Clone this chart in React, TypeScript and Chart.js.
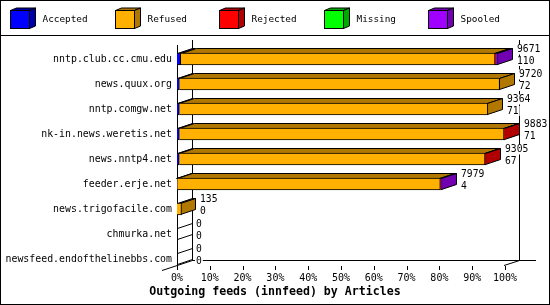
import { useEffect, useRef } from 'react';
import { Chart, registerables } from 'chart.js';
Chart.register(...registerables);

const feeds = [
  'nntp.club.cc.cmu.edu',
  'news.quux.org',
  'nntp.comgw.net',
  'nk-in.news.weretis.net',
  'news.nntp4.net',
  'feeder.erje.net',
  'news.trigofacile.com',
  'chmurka.net',
  'newsfeed.endofthelinebbs.com',
];
const offered = [9671, 9720, 9364, 9883, 9305, 7979, 135, 0, 0];
const accepted = [110, 72, 71, 71, 67, 4, 0, 0, 0];
const refused = [9471, 9648, 9293, 9782, 9213, 7930, 135, 0, 0];
const rejected = [30, 0, 0, 30, 25, 15, 0, 0, 0];
const missing = [0, 0, 0, 0, 0, 0, 0, 0, 0];
const spooled = [60, 0, 0, 0, 0, 30, 0, 0, 0];
const seriesNames = ['Accepted', 'Refused', 'Rejected', 'Missing', 'Spooled'];
const seriesValues = [accepted, refused, rejected, missing, spooled];
const frontColors = ['#0000FF', '#FFB000', '#FF0000', '#00FF00', '#A000FF'];
const sideColors = ['#0000A8', '#B07800', '#B00000', '#00A800', '#7000B0'];
const tickPercents = [0, 10, 20, 30, 40, 50, 60, 70, 80, 90, 100];
const titleText = 'Outgoing feeds (innfeed) by Articles';

const MONO = '"DejaVu Sans Mono", monospace';
const maxTotal = Math.max(...offered);
const DX = 15;
const DY = 5;
const BAR = 12;

function line(ctx: CanvasRenderingContext2D, x1: number, y1: number, x2: number, y2: number) {
  ctx.beginPath();
  ctx.moveTo(x1, y1);
  ctx.lineTo(x2, y2);
  ctx.stroke();
}

function poly(ctx: CanvasRenderingContext2D, pts: number[][], fill: string | null) {
  ctx.beginPath();
  ctx.moveTo(pts[0][0], pts[0][1]);
  for (let i = 1; i < pts.length; i++) ctx.lineTo(pts[i][0], pts[i][1]);
  ctx.closePath();
  if (fill) {
    ctx.fillStyle = fill;
    ctx.fill();
  }
  ctx.stroke();
}

const threeD = {
  id: 'threeD',
  beforeDraw(chart: any) {
    const ctx = chart.ctx;
    ctx.save();
    ctx.fillStyle = '#fff';
    ctx.fillRect(0, 0, chart.width, chart.height);
    ctx.restore();
  },
  beforeDatasetsDraw(chart: any) {
    const ctx: CanvasRenderingContext2D = chart.ctx;
    const xs = chart.scales.x;
    const ys = chart.scales.y;
    const x0 = Math.round(xs.getPixelForValue(0));
    const x100 = Math.round(xs.getPixelForValue(maxTotal));
    const cLast = ys.getPixelForValue(feeds.length - 1);
    const floorF = Math.round(cLast + BAR / 2);
    const floorB = floorF - DY;
    const topF = Math.round(ys.top) - 2;
    const topB = topF - DY;
    ctx.save();
    ctx.strokeStyle = '#000';
    ctx.lineWidth = 1;
    // back wall and floor
    line(ctx, x0 + DX + 0.5, topB, x0 + DX + 0.5, floorB + 0.5);
    line(ctx, x100 + DX - 0.5, topB, x100 + DX - 0.5, floorB + 0.5);
    line(ctx, x0 + DX, floorB + 0.5, x100 + DX + 16, floorB + 0.5);
    line(ctx, x0 - DX, floorF + DY + 0.5, x0 + DX + 0.5, floorB + 0.5);
    line(ctx, x100 - 1, floorF + 0.5, x100 + DX - 0.5, floorB + 0.5);
    // front left axis
    line(ctx, x0 + 0.5, topF, x0 + 0.5, floorF + 1.5);
    // tick marks
    xs.ticks.forEach((t: any) => {
      const px = Math.round(xs.getPixelForValue(t.value)) + 0.5;
      line(ctx, px, floorF + 1, px, floorF + 5);
    });
    // 3D faces
    const metas = chart.data.datasets.map((_: any, d: number) => chart.getDatasetMeta(d));
    for (let i = 0; i < feeds.length; i++) {
      const cy = ys.getPixelForValue(i);
      const t = Math.round(cy - BAR / 2) + 0.5;
      const b = Math.round(cy + BAR / 2) - 0.5;
      let last = -1;
      let lastR = 0;
      for (let d = 0; d < metas.length; d++) {
        if (!seriesValues[d][i]) continue;
        const el = metas[d].data[i];
        const p = el.getProps(['x', 'base'], true);
        const l = Math.round(Math.min(p.x, p.base)) + 0.5;
        const r = Math.round(Math.max(p.x, p.base)) - 0.5;
        poly(ctx, [[l, t], [r, t], [r + DX, t - DY], [l + DX, t - DY]], sideColors[d]);
        last = d;
        lastR = r;
      }
      if (last >= 0) {
        poly(ctx, [[lastR, t], [lastR + DX, t - DY], [lastR + DX, b - DY], [lastR, b]], sideColors[last]);
      } else {
        line(ctx, x0 + 0.5, t, x0 + DX + 0.5, t - DY);
        line(ctx, x0 + 0.5, b, x0 + DX + 0.5, b - DY);
      }
    }
    ctx.restore();
  },
  afterDatasetsDraw(chart: any) {
    const ctx: CanvasRenderingContext2D = chart.ctx;
    const xs = chart.scales.x;
    const ys = chart.scales.y;
    ctx.save();
    ctx.font = '9.7px ' + MONO;
    ctx.textBaseline = 'middle';
    ctx.textAlign = 'left';
    for (let i = 0; i < feeds.length; i++) {
      const cy = ys.getPixelForValue(i);
      const lx = Math.round(xs.getPixelForValue(offered[i])) + DX + 4;
      const items: [string, number][] = [
        [String(offered[i]), cy - 9.5],
        [String(accepted[i]), cy + 2],
      ];
      items.forEach(([txt, y]) => {
        const w = ctx.measureText(txt).width;
        ctx.fillStyle = '#fff';
        ctx.fillRect(lx - 1, y - 5, w + 2, 10);
        ctx.fillStyle = '#000';
        ctx.fillText(txt, lx, y);
      });
    }
    ctx.restore();
  },
  afterDraw(chart: any) {
    const ctx: CanvasRenderingContext2D = chart.ctx;
    ctx.save();
    ctx.strokeStyle = '#000';
    ctx.lineWidth = 1;
    ctx.font = '9.4px ' + MONO;
    ctx.textBaseline = 'middle';
    ctx.textAlign = 'left';
    chart.data.datasets.forEach((ds: any, d: number) => {
      const bx = Math.round(10 + d * 104.5) + 0.5;
      const ty = 10.5;
      const w = 19;
      const h = 18;
      poly(ctx, [[bx, ty], [bx + w, ty], [bx + w + 6, ty - 2.5], [bx + 6, ty - 2.5]], sideColors[d]);
      poly(ctx, [[bx + w, ty], [bx + w + 6, ty - 2.5], [bx + w + 6, ty + h - 2.5], [bx + w, ty + h]], sideColors[d]);
      ctx.fillStyle = frontColors[d];
      ctx.fillRect(bx, ty, w, h);
      ctx.strokeRect(bx, ty, w, h);
      ctx.fillStyle = '#000';
      ctx.fillText(ds.label, bx + 32, 20);
    });
    line(ctx, 0, 35.5, chart.width, 35.5);
    ctx.strokeRect(0.5, 0.5, chart.width - 1, chart.height - 1);
    ctx.restore();
  },
};

export default function App() {
  const ref = useRef<HTMLCanvasElement>(null);
  useEffect(() => {
    document.body.style.margin = '0';
    const chart = new Chart(ref.current!, {
      type: 'bar',
      data: {
        labels: feeds,
        datasets: seriesNames.map((name, d) => ({
          label: name,
          data: seriesValues[d],
          backgroundColor: frontColors[d],
          borderColor: '#000',
          borderWidth: 1,
          borderSkipped: 'start',
          barThickness: BAR,
        })),
      },
      options: {
        indexAxis: 'y',
        animation: false,
        responsive: false,
        devicePixelRatio: 1,
        events: [],
        layout: { padding: { top: 46.5, right: 0, bottom: 6.34, left: 0 } },
        scales: {
          x: {
            stacked: true,
            min: 0,
            max: maxTotal,
            grid: { display: false, drawTicks: false },
            border: { display: false },
            afterBuildTicks: (s: any) => {
              s.ticks = tickPercents.map((p) => ({ value: (p / 100) * maxTotal }));
            },
            afterFit: (s: any) => {
              s.height = 13.24;
            },
            ticks: {
              autoSkip: false,
              maxRotation: 0,
              padding: 1,
              color: '#000',
              font: { family: MONO, size: 10 },
              callback: (v: any) => Math.round((Number(v) / maxTotal) * 100) + '%',
            },
          },
          y: {
            stacked: true,
            grid: { display: false, drawTicks: false },
            border: { display: false },
            afterFit: (s: any) => {
              s.width = 177;
            },
            ticks: {
              autoSkip: false,
              padding: 5,
              color: '#000',
              font: { family: MONO, size: 9.9 },
            },
          },
          yRight: {
            type: 'linear',
            position: 'right',
            display: true,
            grid: { display: false, drawTicks: false },
            border: { display: false },
            ticks: { display: false },
            afterFit: (s: any) => {
              s.width = 45;
            },
          },
        },
        plugins: {
          legend: { display: false },
          tooltip: { enabled: false },
          title: {
            display: true,
            text: titleText,
            position: 'bottom',
            color: '#000',
            padding: { top: 0, bottom: 0 },
            font: { family: MONO, size: 11.6, weight: 'bold' },
          },
        },
      },
      plugins: [threeD],
    } as any);
    return () => chart.destroy();
  }, []);
  return <canvas ref={ref} width={550} height={305} style={{ display: 'block' }} />;
}
